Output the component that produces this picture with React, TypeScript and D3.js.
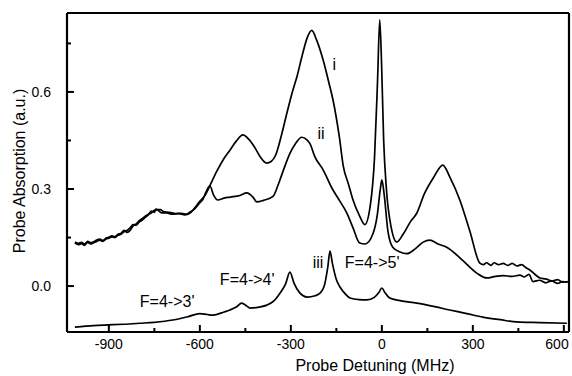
import React from 'react';
import * as d3 from 'd3';

// detuning (MHz), absorption (a.u.)
const seriesI: [number, number][] = [
  [-1012, 0.133], [-1000, 0.128], [-990, 0.131], [-980, 0.126], [-970, 0.135], [-960, 0.130],
  [-950, 0.134], [-940, 0.138], [-930, 0.142], [-920, 0.138], [-910, 0.145], [-900, 0.148],
  [-890, 0.152], [-880, 0.150], [-870, 0.157], [-860, 0.160], [-850, 0.168], [-840, 0.172],
  [-830, 0.180], [-820, 0.190], [-810, 0.188], [-800, 0.198], [-790, 0.204], [-780, 0.212],
  [-770, 0.220], [-760, 0.232], [-750, 0.228], [-745, 0.238], [-735, 0.232], [-725, 0.226],
  [-710, 0.226], [-690, 0.222], [-670, 0.224], [-650, 0.220], [-633, 0.225], [-620, 0.238],
  [-610, 0.250], [-600, 0.262], [-590, 0.272], [-580, 0.285], [-567, 0.310], [-544, 0.355],
  [-520, 0.395], [-501, 0.420], [-480, 0.448], [-458, 0.467], [-440, 0.455], [-420, 0.430],
  [-400, 0.398], [-380, 0.380], [-365, 0.385], [-350, 0.405], [-330, 0.470], [-313, 0.535],
  [-295, 0.600], [-280, 0.647], [-262, 0.715], [-245, 0.770], [-231, 0.790], [-215, 0.760],
  [-194, 0.700], [-175, 0.630], [-161, 0.575], [-140, 0.460], [-127, 0.370], [-110, 0.315],
  [-95, 0.266], [-75, 0.220], [-56, 0.190], [-38, 0.250], [-24, 0.400], [-14, 0.640],
  [-7, 0.823], [-1, 0.690], [6, 0.450], [15, 0.300], [30, 0.185], [49, 0.136], [70, 0.160],
  [95, 0.200], [115, 0.225], [140, 0.285], [170, 0.335], [201, 0.374], [225, 0.335],
  [257, 0.266], [290, 0.170], [323, 0.071], [335, 0.066], [345, 0.072], [360, 0.064],
  [370, 0.072], [385, 0.066], [400, 0.070], [415, 0.064], [430, 0.070], [445, 0.062],
  [460, 0.066], [478, 0.055], [490, 0.048], [500, 0.040], [510, 0.032], [521, 0.025],
  [540, 0.022], [560, 0.016], [580, 0.020], [595, 0.012], [613, 0.014],
];

const seriesII: [number, number][] = [
  [-1012, 0.136], [-1000, 0.132], [-990, 0.135], [-980, 0.130], [-970, 0.138], [-960, 0.134],
  [-950, 0.137], [-940, 0.142], [-930, 0.145], [-920, 0.141], [-910, 0.148], [-900, 0.151],
  [-890, 0.155], [-880, 0.153], [-870, 0.160], [-860, 0.163], [-850, 0.172], [-840, 0.166],
  [-830, 0.172], [-820, 0.186], [-810, 0.192], [-800, 0.202], [-790, 0.208], [-780, 0.216],
  [-770, 0.222], [-760, 0.226], [-750, 0.234], [-740, 0.236], [-730, 0.236], [-720, 0.230],
  [-700, 0.228], [-680, 0.224], [-660, 0.225], [-645, 0.222], [-633, 0.228], [-620, 0.236],
  [-610, 0.246], [-600, 0.258], [-590, 0.268], [-580, 0.290], [-567, 0.310], [-555, 0.282],
  [-541, 0.266], [-520, 0.272], [-500, 0.275], [-468, 0.280], [-445, 0.288], [-425, 0.275],
  [-412, 0.260], [-390, 0.265], [-359, 0.277], [-343, 0.310], [-336, 0.328], [-320, 0.370],
  [-303, 0.410], [-285, 0.440], [-264, 0.460], [-247, 0.452], [-237, 0.440], [-221, 0.400],
  [-194, 0.360], [-163, 0.300], [-140, 0.265], [-115, 0.225], [-95, 0.180], [-73, 0.133],
  [-55, 0.130], [-30, 0.160], [-15, 0.220], [-5, 0.300], [0, 0.328], [8, 0.280], [20, 0.170],
  [36, 0.120], [60, 0.105], [82, 0.100], [110, 0.115], [135, 0.135], [158, 0.142],
  [185, 0.130], [214, 0.120], [260, 0.085], [313, 0.040], [346, 0.025], [375, 0.030],
  [400, 0.032], [430, 0.030], [455, 0.034], [470, 0.028], [485, 0.036], [498, 0.014],
  [520, 0.018], [540, 0.010], [560, 0.016], [580, 0.008], [595, 0.014], [613, 0.012],
];

const seriesIII: [number, number][] = [
  [-1012, -0.127], [-950, -0.122], [-900, -0.120], [-850, -0.118], [-798, -0.115],
  [-750, -0.112], [-689, -0.105], [-640, -0.095], [-600, -0.085], [-575, -0.088],
  [-557, -0.090], [-520, -0.080], [-501, -0.074], [-480, -0.065], [-462, -0.053],
  [-445, -0.062], [-435, -0.068], [-405, -0.065], [-379, -0.059], [-355, -0.045],
  [-336, -0.022], [-318, 0.005], [-303, 0.043], [-290, 0.010], [-270, -0.022],
  [-247, -0.034], [-220, -0.030], [-204, -0.022], [-190, 0.000], [-178, 0.060],
  [-171, 0.108], [-163, 0.070], [-150, 0.020], [-138, -0.003], [-120, -0.025],
  [-105, -0.037], [-75, -0.042], [-49, -0.043], [-25, -0.035], [-10, -0.020], [0, -0.006],
  [10, -0.020], [26, -0.037], [60, -0.045], [115, -0.053], [170, -0.063], [224, -0.074],
  [280, -0.085], [333, -0.096], [390, -0.104], [445, -0.111], [520, -0.113], [610, -0.115],
];

const xTicks = [-900, -600, -300, 0, 300, 600];
const xMinor = [-750, -450, -150, 150, 450];
const yTicks = [0.0, 0.3, 0.6];
const yMinor = [0.15, 0.45, 0.75];

const labels: { text: string; x: number; y: number }[] = [
  { text: 'i', x: -163, y: 0.668 },
  { text: 'ii', x: -212, y: 0.455 },
  { text: 'iii', x: -228, y: 0.056 },
  { text: "F=4->3'", x: -798, y: -0.065 },
  { text: "F=4->4'", x: -534, y: 0.003 },
  { text: "F=4->5'", x: -122, y: 0.056 },
];

const font = '"Liberation Sans", Arial, sans-serif';

const x = d3.scaleLinear().domain([-1038, 617]).range([67, 569]);
const y = d3.scaleLinear().domain([-0.142, 0.844]).range([332, 13]);

const line = d3.line<[number, number]>()
  .x(d => x(d[0]))
  .y(d => y(d[1]))
  .curve(d3.curveMonotoneX);

const App = () => {
  const left = x(-1038);
  const right = x(617);
  const top = y(0.844);
  const bottom = y(-0.142);

  return (
    <svg
      width={572}
      height={376}
      style={{ position: 'absolute', left: 0, top: 0, background: '#fff' }}
      fontFamily={font}
    >
      {/* frame */}
      <line x1={left} x2={right} y1={top} y2={top} stroke="#000" strokeWidth={2.2} />
      <line x1={left} x2={left} y1={top} y2={bottom} stroke="#000" strokeWidth={2.2} />
      <line x1={right} x2={right} y1={top} y2={bottom} stroke="#000" strokeWidth={2.2} />
      <line x1={left} x2={right} y1={bottom} y2={bottom} stroke="#000" strokeWidth={2.2} />

      {[seriesI, seriesII, seriesIII].map((s, i) => (
        <path key={i} d={line(s) ?? ''} fill="none" stroke="#000" strokeWidth={1.7} strokeLinejoin="round" />
      ))}

      {/* ticks, inward */}
      {xTicks.map(t => (
        <line key={'xt' + t} x1={x(t)} x2={x(t)} y1={bottom} y2={bottom - 7} stroke="#000" strokeWidth={2} />
      ))}
      {xMinor.map(t => (
        <line key={'xm' + t} x1={x(t)} x2={x(t)} y1={bottom} y2={bottom - 4} stroke="#000" strokeWidth={2} />
      ))}
      {yTicks.map(t => (
        <line key={'yt' + t} x1={left} x2={left + 7} y1={y(t)} y2={y(t)} stroke="#000" strokeWidth={2} />
      ))}
      {yMinor.map(t => (
        <line key={'ym' + t} x1={left} x2={left + 4} y1={y(t)} y2={y(t)} stroke="#000" strokeWidth={2} />
      ))}

      {xTicks.map(t => (
        <text key={'xl' + t} x={Math.min(x(t), 557)} y={349} textAnchor="middle" fontSize={14}>
          {t}
        </text>
      ))}
      {yTicks.map(t => (
        <text key={'yl' + t} x={51} y={y(t) + 5} textAnchor="end" fontSize={14}>
          {t.toFixed(1)}
        </text>
      ))}

      <text x={375} y={371} textAnchor="middle" fontSize={16}>Probe Detuning (MHz)</text>
      <text transform="translate(25,171) rotate(-90)" textAnchor="middle" fontSize={16}>
        Probe Absorption (a.u.)
      </text>

      {labels.map(l => (
        <text key={l.text} x={x(l.x)} y={y(l.y)} fontSize={16}>{l.text}</text>
      ))}
    </svg>
  );
};

export default App;
